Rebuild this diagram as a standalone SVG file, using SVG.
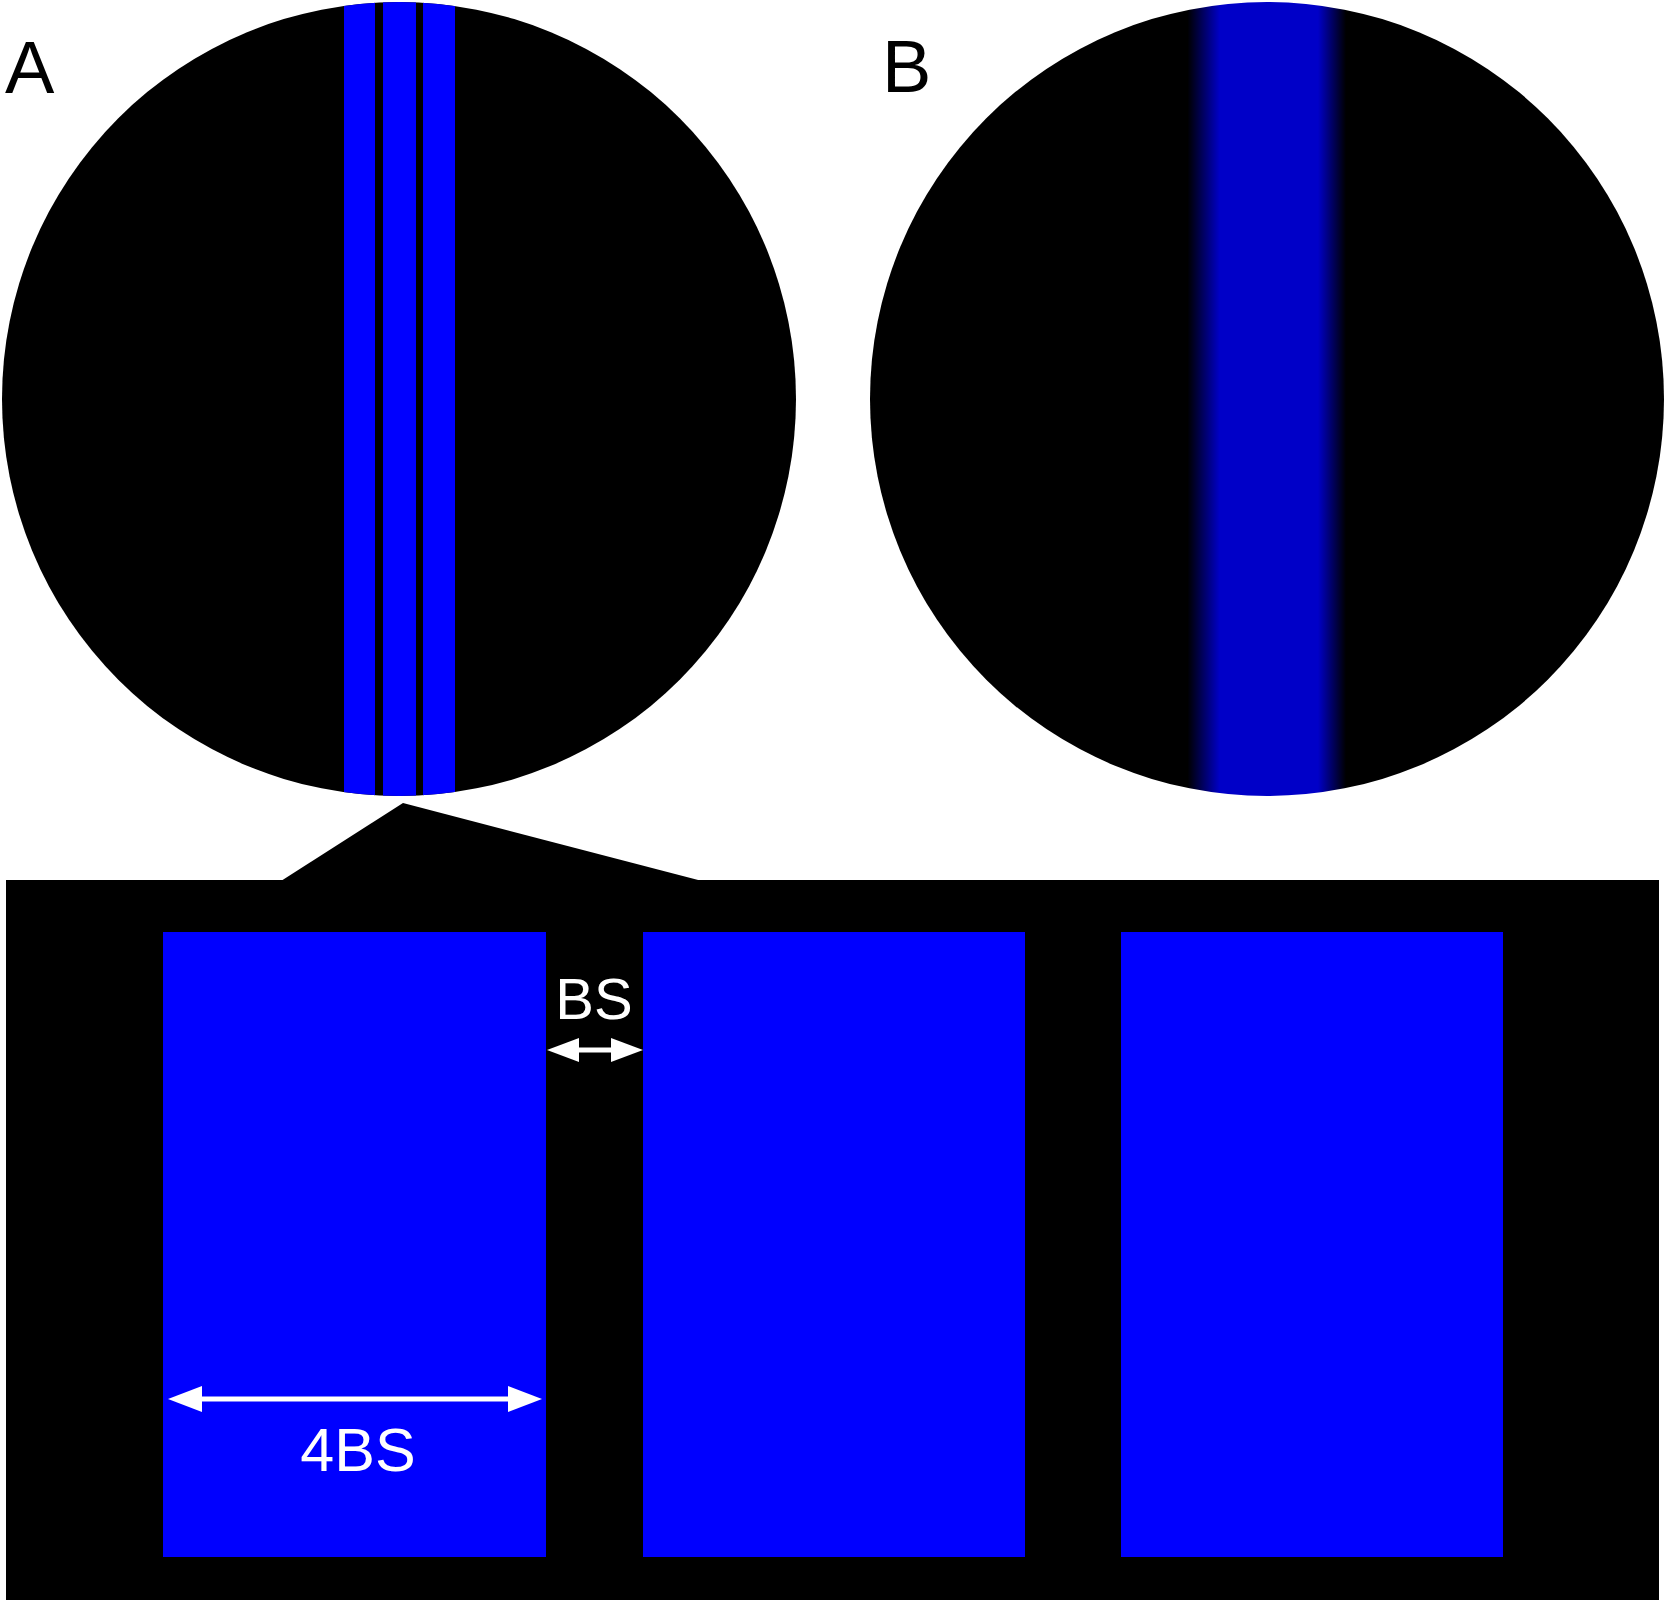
<svg xmlns="http://www.w3.org/2000/svg" width="1667" height="1602" viewBox="0 0 1667 1602">
<style>
.lbl{font-family:"Liberation Sans",Arial,sans-serif;}
.blue{fill:#0000ff;}
.blk{fill:#000000;}
.wt{fill:#ffffff;}
.ln{stroke:#ffffff;stroke-width:5;fill:none;}
</style>
<defs>
<clipPath id="clipA"><circle cx="399" cy="399" r="397"/></clipPath>
<linearGradient id="gradB" gradientUnits="userSpaceOnUse" x1="870" y1="0" x2="1665" y2="0">
<stop offset="0" stop-color="#000000"/>
<stop offset="0.3995" stop-color="#000000"/>
<stop offset="0.4402" stop-color="#0000c8"/>
<stop offset="0.5635" stop-color="#0000c8"/>
<stop offset="0.5987" stop-color="#000000"/>
<stop offset="1" stop-color="#000000"/>
</linearGradient>
</defs>
<rect width="1667" height="1602" fill="#ffffff"/>
<g id="panelA">
<circle cx="399" cy="399" r="397" class="blk"/>
<g clip-path="url(#clipA)">
<rect x="344" y="0" width="31" height="800" class="blue"/>
<rect x="383" y="0" width="33" height="800" class="blue"/>
<rect x="423" y="0" width="32" height="800" class="blue"/>
</g>
<text x="5" y="93" class="lbl" font-size="74" fill="#000">A</text>
</g>
<g id="panelB">
<circle cx="1267" cy="399" r="397" fill="url(#gradB)"/>
<text x="882" y="92" class="lbl" font-size="74" fill="#000">B</text>
</g>
<g id="zoom">
<rect x="6" y="880" width="1653" height="720" class="blk"/>
<polygon points="403,803 281,881 702,881" class="blk"/>
<rect id="bar1" x="163" y="932" width="383" height="625" class="blue"/>
<rect id="bar2" x="643" y="932" width="382" height="625" class="blue"/>
<rect id="bar3" x="1121" y="932" width="382" height="625" class="blue"/>
</g>
<g id="connectors">
<line x1="575" y1="1050" x2="615" y2="1050" class="ln" stroke-width="4"/>
<polygon points="547,1050 579,1038 579,1062" class="wt"/>
<polygon points="643,1050 611,1038 611,1062" class="wt"/>
<line x1="195" y1="1399" x2="515" y2="1399" class="ln"/>
<polygon points="168,1399 202,1386 202,1412" class="wt"/>
<polygon points="542,1399 508,1386 508,1412" class="wt"/>
</g>
<text x="594" y="1019" class="lbl wt" font-size="58" text-anchor="middle">BS</text>
<text x="358" y="1471" class="lbl wt" font-size="61" text-anchor="middle">4BS</text>
</svg>
